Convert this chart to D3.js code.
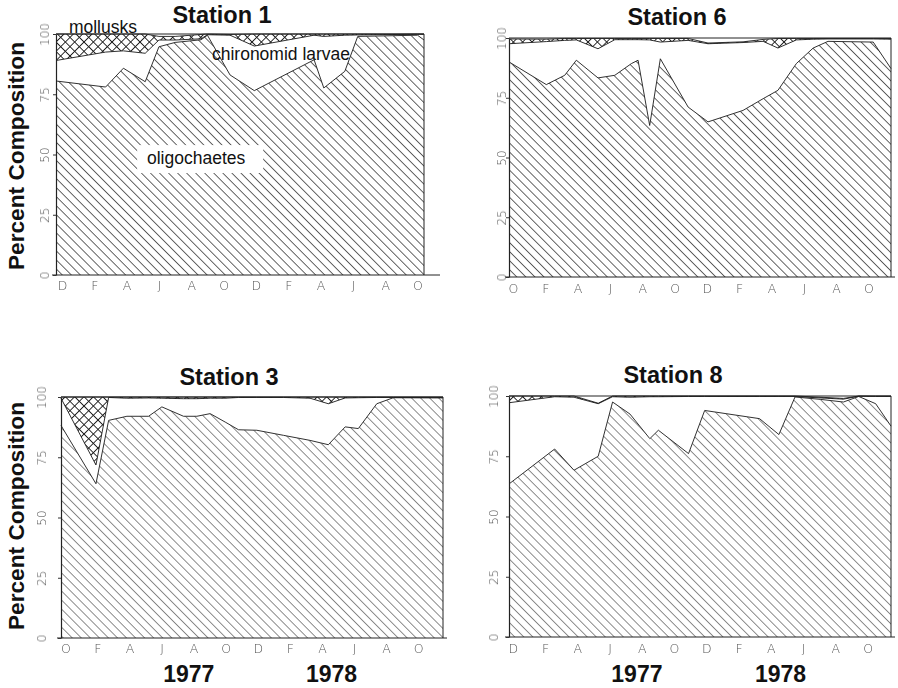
<!DOCTYPE html>
<html>
<head>
<meta charset="utf-8">
<script src="https://cdn.jsdelivr.net/npm/d3@7"></script>
<style>
  html, body { margin: 0; padding: 0; background: #fff; }
  svg { display: block; }
</style>
</head>
<body>
<svg id="chart" width="898" height="688"></svg>
<script>
// ---- Axis labels -------------------------------------------------------
// Month initials shown every second month along each time axis
const labelsSt1 = ["D", "F", "A", "J", "A", "O", "D", "F", "A", "J", "A", "O"];
const labelsSt6 = ["O", "F", "A", "J", "A", "O", "D", "F", "A", "J", "A", "O"];
const labelsSt3 = ["O", "F", "A", "J", "A", "O", "D", "F", "A", "J", "A", "O"];
const labelsSt8 = ["D", "F", "A", "J", "A", "O", "D", "F", "A", "J", "A", "O"];
const labelMonths = [0, 2, 4, 6, 8, 10, 12, 14, 16, 18, 20, 22];
const yTicks = [0, 25, 50, 75, 100];
const yearLabels = ["1977", "1978"];
const yearMonths = [7.7, 16.6];

// ---- Station 1 (months counted from the first labelled month) ----------
const st1Months = [-0.37, 2.7, 3.8, 5.15, 6.0, 7.0, 8.6, 9.0, 10.4, 11.9, 15.6, 16.2, 17.5, 18.3, 22.0, 22.4];
const st1Oligochaetes = [80.5, 78.0, 85.8, 80.2, 94.7, 96.5, 97.6, 99.5, 83.0, 76.5, 89.3, 77.6, 84.5, 99.0, 99.5, 97.5];
const st1Chironomids  = [8.5, 14.5, 7.2, 11.8, 2.8, 1.0, 0.4, 0.2, 16.5, 18.5, 10.2, 21.4, 15.0, 0.6, 0.4, 2.4];
const st1Mollusks     = [11.0, 7.5, 7.0, 8.0, 1.5, 1.5, 1.8, 0.3, 0.3, 5.0, 0.5, 1.0, 0.5, 0.4, 0.1, 0.1];

// ---- Station 6 ----------------------------------------------------------
const st6Months = [-0.25, 2.06, 3.2, 3.92, 5.26, 6.3, 7.33, 7.74, 8.46, 9.12, 10.84, 12.07, 14.24, 15.48, 16.4, 17.54, 18.58, 19.5, 22.3, 23.4];
const st6Oligochaetes = [90.0, 80.5, 84.4, 90.7, 83.3, 84.4, 89.3, 90.7, 63.4, 91.3, 71.1, 64.9, 69.7, 74.6, 78.1, 89.3, 95.8, 98.6, 98.3, 87.2];
const st6Chironomids  = [7.6, 18.0, 14.6, 8.5, 12.2, 14.9, 10.0, 8.6, 35.8, 7.0, 27.9, 32.7, 28.4, 24.0, 17.7, 9.9, 3.7, 1.0, 1.3, 12.3];
const st6Mollusks     = [2.0, 1.0, 0.8, 0.6, 4.3, 0.5, 0.5, 0.5, 0.6, 1.5, 0.8, 0.3, 0.3, 0.8, 4.0, 0.6, 0.3, 0.2, 0.2, 0.3];

// ---- Station 3 ----------------------------------------------------------
const st3Months = [-0.27, 1.91, 2.7, 3.84, 5.19, 6.02, 7.37, 8.2, 9.03, 9.97, 10.8, 11.94, 13.6, 15.26, 16.4, 17.45, 18.27, 19.42, 20.45, 23.55];
const st3Oligochaetes = [88.2, 64.0, 90.3, 92.0, 92.0, 95.9, 92.0, 92.0, 93.1, 89.6, 86.4, 86.2, 84.1, 82.0, 80.2, 87.6, 86.9, 97.2, 99.7, 99.6];
const st3Chironomids  = [11.3, 7.8, 9.5, 7.5, 7.6, 3.6, 7.3, 7.3, 6.4, 9.9, 13.4, 13.6, 15.7, 17.5, 17.0, 12.0, 12.8, 2.6, 0.1, 0.2];
const st3Mollusks     = [0.5, 28.2, 0.2, 0.5, 0.4, 0.5, 0.7, 0.7, 0.5, 0.5, 0.2, 0.2, 0.2, 0.5, 2.8, 0.4, 0.3, 0.2, 0.2, 0.2];

// ---- Station 8 ----------------------------------------------------------
const st8Months = [-0.23, 2.6, 3.8, 5.3, 6.19, 7.27, 8.5, 9.03, 10.9, 11.9, 15.3, 16.5, 17.5, 19.07, 20.5, 21.45, 22.5, 23.45];
const st8Oligochaetes = [63.5, 78.0, 69.2, 75.0, 97.5, 92.5, 82.3, 85.8, 76.1, 94.0, 90.6, 84.0, 99.6, 98.6, 97.5, 99.8, 96.8, 87.5];
const st8Chironomids  = [33.7, 21.7, 30.3, 21.8, 2.2, 7.0, 17.4, 13.9, 23.7, 5.8, 9.2, 15.8, 0.2, 0.6, 1.2, 0.1, 3.0, 12.3];
const st8Mollusks     = [2.8, 0.3, 0.5, 0.2, 0.3, 0.5, 0.3, 0.3, 0.2, 0.2, 0.2, 0.2, 0.2, 0.3, 0.3, 0.1, 0.2, 0.2];

// ---- Panel layout -------------------------------------------------------
const panels = [
  { title: "Station 1", months: st1Months, oligo: st1Oligochaetes, chiro: st1Chironomids, moll: st1Mollusks,
    labels: labelsSt1, left: 56, right: 424, top: 34, bottom: 275, domain: [-0.37, 22.4],
    tickGap: 7, titleX: 222, titleY: 23, monthY: 290, baseExt: 16, hatch: "hatchDark", notes: true },
  { title: "Station 6", months: st6Months, oligo: st6Oligochaetes, chiro: st6Chironomids, moll: st6Mollusks,
    labels: labelsSt6, left: 509, right: 891, top: 38, bottom: 277, domain: [-0.25, 23.4],
    tickGap: 3, titleX: 677, titleY: 25, monthY: 293, baseExt: 4, hatch: "hatchDark" },
  { title: "Station 3", months: st3Months, oligo: st3Oligochaetes, chiro: st3Chironomids, moll: st3Mollusks,
    labels: labelsSt3, left: 61, right: 443, top: 397, bottom: 638, domain: [-0.27, 23.55],
    tickGap: 15, titleX: 229, titleY: 385, monthY: 653, baseExt: 4, hatch: "hatchLight", years: true },
  { title: "Station 8", months: st8Months, oligo: st8Oligochaetes, chiro: st8Chironomids, moll: st8Mollusks,
    labels: labelsSt8, left: 509, right: 891, top: 396, bottom: 637, domain: [-0.23, 23.45],
    tickGap: 11, titleX: 673, titleY: 383, monthY: 653, baseExt: 4, hatch: "hatchLight", years: true }
];

const keys = ["oligochaetes", "chironomids", "mollusks", "other"];
const svg = d3.select("#chart");

// ---- Fill patterns ------------------------------------------------------
const defs = svg.append("defs");
function hatchPattern(id, color, width) {
  const s = 6.4;
  const p = defs.append("pattern").attr("id", id)
    .attr("patternUnits", "userSpaceOnUse")
    .attr("width", s).attr("height", s)
    .attr("patternTransform", "rotate(-45)");
  p.append("rect").attr("width", s).attr("height", s).attr("fill", "#fff");
  p.append("line").attr("x1", s / 2).attr("y1", 0).attr("x2", s / 2).attr("y2", s)
    .attr("stroke", color).attr("stroke-width", width);
}
hatchPattern("hatchDark", "#555", 0.9);
hatchPattern("hatchLight", "#7a7a7a", 0.85);

(function crossPattern() {
  const s = 6.6;
  const p = defs.append("pattern").attr("id", "cross")
    .attr("patternUnits", "userSpaceOnUse")
    .attr("width", s).attr("height", s)
    .attr("patternTransform", "rotate(45)");
  p.append("rect").attr("width", s).attr("height", s).attr("fill", "#fff");
  p.append("line").attr("x1", s / 2).attr("y1", 0).attr("x2", s / 2).attr("y2", s)
    .attr("stroke", "#222").attr("stroke-width", 1);
  p.append("line").attr("x1", 0).attr("y1", s / 2).attr("x2", s).attr("y2", s / 2)
    .attr("stroke", "#222").attr("stroke-width", 1);
})();

// Pass-through filter so the thin tick lettering is rasterised in greyscale
const flat = defs.append("filter").attr("id", "flat")
  .attr("x", "-20%").attr("y", "-20%").attr("width", "140%").attr("height", "140%");
flat.append("feOffset").attr("dx", 0).attr("dy", 0);

const tickFont = "'DejaVu Sans', sans-serif";
const boldFont = "'Liberation Sans', Arial, sans-serif";

panels.forEach(p => {
  const x = d3.scaleLinear().domain(p.domain).range([p.left, p.right]);
  const y = d3.scaleLinear().domain([0, 100]).range([p.bottom, p.top]);

  const rows = p.months.map((m, i) => ({
    m,
    oligochaetes: p.oligo[i],
    chironomids: p.chiro[i],
    mollusks: p.moll[i],
    other: Math.max(0, 100 - p.oligo[i] - p.chiro[i] - p.moll[i])
  }));
  const series = d3.stack().keys(keys)(rows);

  const fills = { oligochaetes: `url(#${p.hatch})`, chironomids: "#fff", mollusks: "url(#cross)", other: "#fff" };

  const g = svg.append("g");
  const area = d3.area()
    .x(d => x(d.data.m))
    .y0(d => y(d[0]))
    .y1(d => y(d[1]));
  g.selectAll("path.layer").data(series).join("path")
    .attr("class", "layer")
    .attr("d", area)
    .attr("fill", d => fills[d.key])
    .attr("stroke", "none");

  // Outline on top of each group's band
  const edge = d3.line().x(d => x(d.data.m)).y(d => y(d[1]));
  g.selectAll("path.edge").data(series.slice(0, 3)).join("path")
    .attr("class", "edge")
    .attr("d", edge)
    .attr("fill", "none")
    .attr("stroke", "#1a1a1a")
    .attr("stroke-width", 0.9)
    .attr("stroke-linejoin", "miter");

  // Frame: top and right borders, extended baseline
  g.append("line").attr("x1", p.left).attr("x2", p.right).attr("y1", y(100)).attr("y2", y(100))
    .attr("stroke", "#222").attr("stroke-width", 1);
  g.append("line").attr("x1", p.right).attr("x2", p.right).attr("y1", y(100)).attr("y2", y(0))
    .attr("stroke", "#222").attr("stroke-width", 1);
  g.append("line").attr("x1", p.left - 4).attr("x2", p.right + p.baseExt).attr("y1", y(0)).attr("y2", y(0))
    .attr("stroke", "#222").attr("stroke-width", 1);

  // Y axis with rotated tick labels
  const yAxis = g.append("g").attr("transform", `translate(${p.left},0)`)
    .call(d3.axisLeft(y).tickValues(yTicks).tickSize(3).tickSizeOuter(0));
  yAxis.select(".domain").attr("stroke", "#222").attr("stroke-width", 1.2);
  yAxis.selectAll(".tick line").attr("stroke", "#333");
  yAxis.selectAll(".tick text")
    .attr("transform", "rotate(-90)")
    .attr("x", 0).attr("y", -p.tickGap).attr("dy", 0)
    .attr("text-anchor", "middle")
    .attr("font-family", tickFont)
    .attr("font-weight", 200)
    .attr("font-size", 12)
    .attr("fill", "#555")
    .attr("filter", "url(#flat)");

  // X axis with month initials
  const xAxis = g.append("g").attr("transform", `translate(0,${p.monthY - 9})`)
    .call(d3.axisBottom(x).tickValues(labelMonths).tickFormat((d, i) => p.labels[i]).tickSize(0).tickPadding(0));
  xAxis.select(".domain").remove();
  xAxis.selectAll(".tick text")
    .attr("y", 0).attr("dy", 9)
    .attr("font-family", tickFont)
    .attr("font-weight", 200)
    .attr("font-size", 12.5)
    .attr("fill", "#555")
    .attr("filter", "url(#flat)");

  // Panel title
  svg.append("text")
    .attr("x", p.titleX).attr("y", p.titleY)
    .attr("text-anchor", "middle")
    .attr("font-family", boldFont)
    .attr("font-weight", "bold")
    .attr("font-size", 23.5)
    .attr("fill", "#111")
    .text(p.title);

  // Year labels beneath the lower row
  if (p.years) {
    svg.selectAll(null).data(yearLabels).join("text")
      .attr("x", (d, i) => x(yearMonths[i]))
      .attr("y", 682)
      .attr("text-anchor", "middle")
      .attr("font-family", boldFont)
      .attr("font-weight", "bold")
      .attr("font-size", 23)
      .attr("fill", "#111")
      .text(d => d);
  }

  // Group names written inside the first panel
  if (p.notes) {
    const notes = g.append("g")
      .attr("font-family", boldFont)
      .attr("font-size", 17.5)
      .attr("fill", "#111");
    notes.append("rect")
      .attr("x", x(4.65)).attr("y", y(53.9))
      .attr("width", x(12.45) - x(4.65)).attr("height", y(42.3) - y(53.9))
      .attr("fill", "#fff");
    notes.append("text").attr("x", x(5.26)).attr("y", y(46.1)).text("oligochaetes");
    notes.append("text").attr("x", x(0.43)).attr("y", y(100.4)).text("mollusks");
    notes.append("text").attr("x", x(9.28)).attr("y", y(89.2)).text("chironomid larvae");
  }
});

// Shared y-axis titles
[156, 516].forEach(cy => {
  svg.append("text")
    .attr("transform", `translate(24,${cy}) rotate(-90)`)
    .attr("text-anchor", "middle")
    .attr("font-family", boldFont)
    .attr("font-weight", "bold")
    .attr("font-size", 22.7)
    .attr("fill", "#111")
    .text("Percent Composition");
});
</script>
</body>
</html>
